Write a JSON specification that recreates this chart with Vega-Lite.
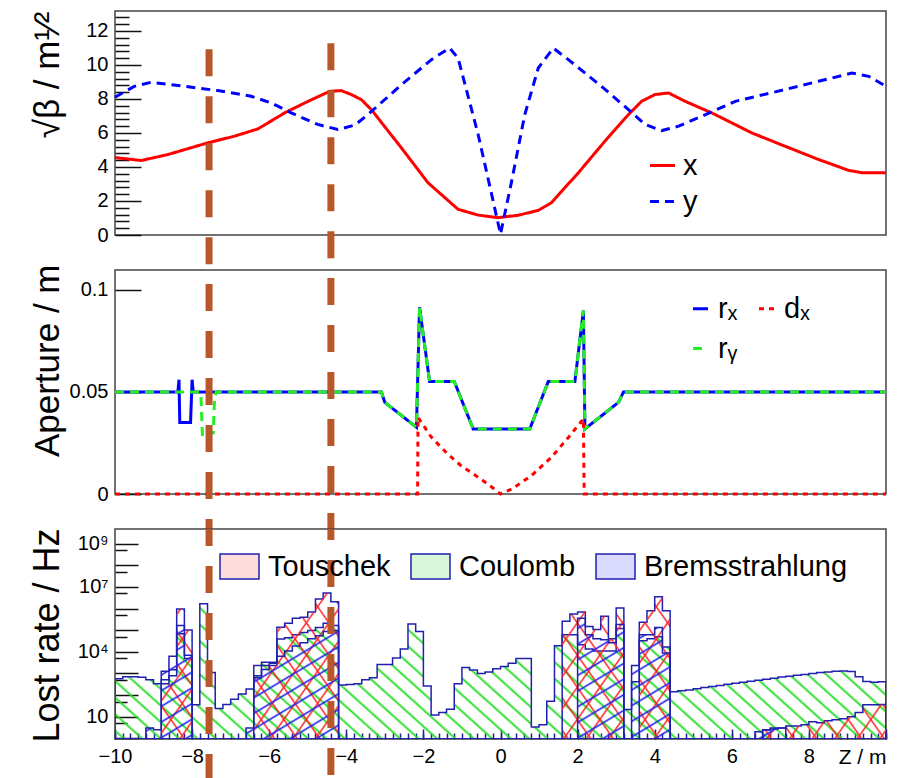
{
  "$schema": "https://vega.github.io/schema/vega-lite/v6.json",
  "background": "white",
  "padding": {"left": 28, "top": 10, "right": 5, "bottom": 5},
  "autosize": {"type": "pad"},
  "config": {
    "font": "Liberation Sans",
    "view": {"stroke": "#444444", "strokeWidth": 1.5},
    "axis": {
      "grid": false, "domain": false, "labelFont": "Liberation Sans", "labelFontSize": 20,
      "labelColor": "#000000", "labelFlush": false, "labelOverlap": false,
      "titleFont": "Liberation Sans", "titleFontWeight": "normal", "titleColor": "#000000",
      "tickColor": "#111111", "tickWidth": 1.5
    },
    "legend": {"labelFont": "Liberation Sans", "labelColor": "#000000", "labelFontSize": 29, "labelLimit": 0, "padding": 0}
  },
  "datasets": {
    "cuts": [{"cut": "a", "z": -7.56}, {"cut": "b", "z": -4.4}],
    "beta": [
      {"z": -10, "plane": "x", "v": 4.55}, {"z": -9.32, "plane": "x", "v": 4.38}, {"z": -8.63, "plane": "x", "v": 4.73},
      {"z": -7.59, "plane": "x", "v": 5.42}, {"z": -6.9, "plane": "x", "v": 5.81}, {"z": -6.29, "plane": "x", "v": 6.24},
      {"z": -5.6, "plane": "x", "v": 7.18}, {"z": -4.99, "plane": "x", "v": 7.86}, {"z": -4.43, "plane": "x", "v": 8.45},
      {"z": -4.13, "plane": "x", "v": 8.49}, {"z": -3.87, "plane": "x", "v": 8.26}, {"z": -3.61, "plane": "x", "v": 7.96},
      {"z": -3.35, "plane": "x", "v": 7.37}, {"z": -2.57, "plane": "x", "v": 5.12}, {"z": -1.88, "plane": "x", "v": 3.07},
      {"z": -1.27, "plane": "x", "v": 1.85}, {"z": -1.1, "plane": "x", "v": 1.51}, {"z": -0.58, "plane": "x", "v": 1.17},
      {"z": -0.06, "plane": "x", "v": 1.02}, {"z": 0.46, "plane": "x", "v": 1.16}, {"z": 0.98, "plane": "x", "v": 1.45},
      {"z": 1.32, "plane": "x", "v": 1.9}, {"z": 2.02, "plane": "x", "v": 3.66}, {"z": 2.71, "plane": "x", "v": 5.52},
      {"z": 3.32, "plane": "x", "v": 7.08}, {"z": 3.66, "plane": "x", "v": 7.86}, {"z": 4.01, "plane": "x", "v": 8.26},
      {"z": 4.36, "plane": "x", "v": 8.35}, {"z": 4.79, "plane": "x", "v": 7.86}, {"z": 5.48, "plane": "x", "v": 7.18},
      {"z": 6.17, "plane": "x", "v": 6.4}, {"z": 6.52, "plane": "x", "v": 6.0}, {"z": 7.38, "plane": "x", "v": 5.22},
      {"z": 8.25, "plane": "x", "v": 4.44}, {"z": 9.03, "plane": "x", "v": 3.8}, {"z": 9.38, "plane": "x", "v": 3.66},
      {"z": 10, "plane": "x", "v": 3.66},
      {"z": -10, "plane": "y", "v": 8.1}, {"z": -9.5, "plane": "y", "v": 8.74}, {"z": -9.06, "plane": "y", "v": 8.98},
      {"z": -8.2, "plane": "y", "v": 8.74}, {"z": -7.33, "plane": "y", "v": 8.49}, {"z": -6.47, "plane": "y", "v": 8.16},
      {"z": -5.95, "plane": "y", "v": 7.77}, {"z": -5.43, "plane": "y", "v": 7.18}, {"z": -4.74, "plane": "y", "v": 6.5},
      {"z": -4.22, "plane": "y", "v": 6.2}, {"z": -3.78, "plane": "y", "v": 6.46}, {"z": -3.44, "plane": "y", "v": 7.08},
      {"z": -2.57, "plane": "y", "v": 8.84}, {"z": -1.79, "plane": "y", "v": 10.31}, {"z": -1.32, "plane": "y", "v": 11.0},
      {"z": -1.1, "plane": "y", "v": 10.4}, {"z": -0.58, "plane": "y", "v": 5.91}, {"z": -0.23, "plane": "y", "v": 2.39},
      {"z": 0.0, "plane": "y", "v": 0.05}, {"z": 0.29, "plane": "y", "v": 3.17}, {"z": 0.63, "plane": "y", "v": 7.08},
      {"z": 0.98, "plane": "y", "v": 9.82}, {"z": 1.37, "plane": "y", "v": 10.99}, {"z": 1.76, "plane": "y", "v": 10.31},
      {"z": 2.62, "plane": "y", "v": 8.74}, {"z": 3.32, "plane": "y", "v": 7.37}, {"z": 3.75, "plane": "y", "v": 6.5},
      {"z": 4.18, "plane": "y", "v": 6.14}, {"z": 4.62, "plane": "y", "v": 6.4}, {"z": 5.22, "plane": "y", "v": 6.98},
      {"z": 6.09, "plane": "y", "v": 7.86}, {"z": 7.38, "plane": "y", "v": 8.55}, {"z": 8.25, "plane": "y", "v": 9.04},
      {"z": 9.12, "plane": "y", "v": 9.52}, {"z": 9.55, "plane": "y", "v": 9.33}, {"z": 10, "plane": "y", "v": 8.74}
    ],
    "aperture": [
      {"z": -10, "curve": "rₓ", "a": 0.05}, {"z": -8.37, "curve": "rₓ", "a": 0.05}, {"z": -8.34, "curve": "rₓ", "a": 0.056},
      {"z": -8.32, "curve": "rₓ", "a": 0.035}, {"z": -8.04, "curve": "rₓ", "a": 0.035}, {"z": -8.0, "curve": "rₓ", "a": 0.056},
      {"z": -7.97, "curve": "rₓ", "a": 0.05}, {"z": -3.09, "curve": "rₓ", "a": 0.05}, {"z": -3.0, "curve": "rₓ", "a": 0.0449},
      {"z": -2.18, "curve": "rₓ", "a": 0.0327}, {"z": -2.1, "curve": "rₓ", "a": 0.0915}, {"z": -1.84, "curve": "rₓ", "a": 0.0552},
      {"z": -1.2, "curve": "rₓ", "a": 0.0552}, {"z": -0.71, "curve": "rₓ", "a": 0.0319}, {"z": 0.76, "curve": "rₓ", "a": 0.0319},
      {"z": 1.24, "curve": "rₓ", "a": 0.0552}, {"z": 1.93, "curve": "rₓ", "a": 0.0552}, {"z": 2.15, "curve": "rₓ", "a": 0.0899},
      {"z": 2.19, "curve": "rₓ", "a": 0.0319}, {"z": 3.06, "curve": "rₓ", "a": 0.0449}, {"z": 3.19, "curve": "rₓ", "a": 0.05},
      {"z": 10, "curve": "rₓ", "a": 0.05},
      {"z": -10, "curve": "rᵧ", "a": 0.05}, {"z": -7.8, "curve": "rᵧ", "a": 0.05}, {"z": -7.77, "curve": "rᵧ", "a": 0.0474},
      {"z": -7.73, "curve": "rᵧ", "a": 0.0277}, {"z": -7.45, "curve": "rᵧ", "a": 0.03}, {"z": -7.42, "curve": "rᵧ", "a": 0.0457},
      {"z": -7.38, "curve": "rᵧ", "a": 0.05}, {"z": -3.09, "curve": "rᵧ", "a": 0.05}, {"z": -3.0, "curve": "rᵧ", "a": 0.0449},
      {"z": -2.18, "curve": "rᵧ", "a": 0.0327}, {"z": -2.1, "curve": "rᵧ", "a": 0.0915}, {"z": -1.84, "curve": "rᵧ", "a": 0.0552},
      {"z": -1.2, "curve": "rᵧ", "a": 0.0552}, {"z": -0.71, "curve": "rᵧ", "a": 0.0319}, {"z": 0.76, "curve": "rᵧ", "a": 0.0319},
      {"z": 1.24, "curve": "rᵧ", "a": 0.0552}, {"z": 1.93, "curve": "rᵧ", "a": 0.0552}, {"z": 2.15, "curve": "rᵧ", "a": 0.0899},
      {"z": 2.19, "curve": "rᵧ", "a": 0.0319}, {"z": 3.06, "curve": "rᵧ", "a": 0.0449}, {"z": 3.19, "curve": "rᵧ", "a": 0.05},
      {"z": 10, "curve": "rᵧ", "a": 0.05},
      {"z": -10, "curve": "dₓ", "a": 0}, {"z": -2.15, "curve": "dₓ", "a": 0}, {"z": -2.14, "curve": "dₓ", "a": 0.0376},
      {"z": -1.8, "curve": "dₓ", "a": 0.028}, {"z": -1.36, "curve": "dₓ", "a": 0.0194}, {"z": -1.0, "curve": "dₓ", "a": 0.0135},
      {"z": -0.6, "curve": "dₓ", "a": 0.0085}, {"z": -0.3, "curve": "dₓ", "a": 0.0045}, {"z": 0, "curve": "dₓ", "a": 0},
      {"z": 0.3, "curve": "dₓ", "a": 0.0025}, {"z": 0.8, "curve": "dₓ", "a": 0.009}, {"z": 1.32, "curve": "dₓ", "a": 0.018},
      {"z": 1.76, "curve": "dₓ", "a": 0.0277}, {"z": 2.15, "curve": "dₓ", "a": 0.0368}, {"z": 2.17, "curve": "dₓ", "a": 0},
      {"z": 10, "curve": "dₓ", "a": 0}
    ],
    "loss": [
      {"z": -10, "coulomb": 570, "touschek": 0.01, "brems": 0.01},
      {"z": -9.8, "coulomb": 710, "touschek": 0.01, "brems": 0.01},
      {"z": -9.6, "coulomb": 710, "touschek": 0.01, "brems": 0.01},
      {"z": -9.4, "coulomb": 660, "touschek": 0.01, "brems": 0.01},
      {"z": -9.2, "coulomb": 510, "touschek": 0.01, "brems": 3},
      {"z": -9.0, "coulomb": 330, "touschek": 0.01, "brems": 2.5},
      {"z": -8.8, "coulomb": 510, "touschek": 330, "brems": 1250},
      {"z": -8.6, "coulomb": 1500, "touschek": 790, "brems": 6200},
      {"z": -8.4, "coulomb": 68000, "touschek": 960000, "brems": 164000},
      {"z": -8.2, "coulomb": 4900, "touschek": 103000, "brems": 6900},
      {"z": -8.0, "coulomb": 36, "touschek": 0.01, "brems": 0.01},
      {"z": -7.8, "coulomb": 1660000, "touschek": 0.01, "brems": 0.01},
      {"z": -7.6, "coulomb": 1100, "touschek": 0.01, "brems": 0.01},
      {"z": -7.4, "coulomb": 24, "touschek": 0.01, "brems": 0.01},
      {"z": -7.2, "coulomb": 37, "touschek": 0.01, "brems": 0.01},
      {"z": -7.0, "coulomb": 64, "touschek": 0.01, "brems": 0.01},
      {"z": -6.8, "coulomb": 111, "touschek": 0.01, "brems": 0.01},
      {"z": -6.6, "coulomb": 190, "touschek": 0.01, "brems": 3},
      {"z": -6.4, "coulomb": 790, "touschek": 2360, "brems": 635},
      {"z": -6.2, "coulomb": 3270, "touschek": 2360, "brems": 1520},
      {"z": -6.0, "coulomb": 3270, "touschek": 2360, "brems": 2930},
      {"z": -5.8, "coulomb": 39500, "touschek": 137000, "brems": 6300},
      {"z": -5.6, "coulomb": 45000, "touschek": 208000, "brems": 10900},
      {"z": -5.4, "coulomb": 62500, "touschek": 359000, "brems": 18800},
      {"z": -5.2, "coulomb": 78000, "touschek": 401000, "brems": 26100},
      {"z": -5.0, "coulomb": 97000, "touschek": 692000, "brems": 40400},
      {"z": -4.8, "coulomb": 134000, "touschek": 2800000, "brems": 56100},
      {"z": -4.6, "coulomb": 208000, "touschek": 5270000, "brems": 86700},
      {"z": -4.4, "coulomb": 164000, "touschek": 2060000, "brems": 96800},
      {"z": -4.2, "coulomb": 289, "touschek": 0.01, "brems": 0.01},
      {"z": -4.0, "coulomb": 309, "touschek": 0.01, "brems": 0.01},
      {"z": -3.8, "coulomb": 330, "touschek": 0.01, "brems": 0.01},
      {"z": -3.6, "coulomb": 510, "touschek": 0.01, "brems": 0.01},
      {"z": -3.4, "coulomb": 635, "touschek": 0.01, "brems": 0.01},
      {"z": -3.2, "coulomb": 2570, "touschek": 0.01, "brems": 0.01},
      {"z": -3.0, "coulomb": 2570, "touschek": 0.01, "brems": 0.01},
      {"z": -2.8, "coulomb": 5180, "touschek": 0.01, "brems": 0.01},
      {"z": -2.6, "coulomb": 13600, "touschek": 0.01, "brems": 0.01},
      {"z": -2.4, "coulomb": 195000, "touschek": 0.01, "brems": 0.01},
      {"z": -2.2, "coulomb": 86700, "touschek": 0.01, "brems": 0.01},
      {"z": -2.0, "coulomb": 265, "touschek": 0.01, "brems": 0.01},
      {"z": -1.8, "coulomb": 11.9, "touschek": 0.01, "brems": 0.01},
      {"z": -1.6, "coulomb": 15.5, "touschek": 0.01, "brems": 0.01},
      {"z": -1.4, "coulomb": 22.4, "touschek": 0.01, "brems": 0.01},
      {"z": -1.2, "coulomb": 330, "touschek": 0.01, "brems": 0.01},
      {"z": -1.0, "coulomb": 1900, "touschek": 0.01, "brems": 0.01},
      {"z": -0.8, "coulomb": 1460, "touschek": 0.01, "brems": 0.01},
      {"z": -0.6, "coulomb": 984, "touschek": 0.01, "brems": 0.01},
      {"z": -0.4, "coulomb": 1170, "touschek": 0.01, "brems": 0.01},
      {"z": -0.2, "coulomb": 1630, "touschek": 0.01, "brems": 0.01},
      {"z": 0.0, "coulomb": 2110, "touschek": 0.01, "brems": 0.01},
      {"z": 0.2, "coulomb": 2930, "touschek": 0.01, "brems": 0.01},
      {"z": 0.4, "coulomb": 4950, "touschek": 0.01, "brems": 0.01},
      {"z": 0.6, "coulomb": 4950, "touschek": 0.01, "brems": 0.01},
      {"z": 0.8, "coulomb": 3.35, "touschek": 0.01, "brems": 0.01},
      {"z": 1.0, "coulomb": 4.2, "touschek": 0.01, "brems": 0.01},
      {"z": 1.2, "coulomb": 51.5, "touschek": 0.01, "brems": 0.01},
      {"z": 1.4, "coulomb": 19200, "touschek": 0.01, "brems": 0.01},
      {"z": 1.6, "coulomb": 62500, "touschek": 259000, "brems": 0.01},
      {"z": 1.8, "coulomb": 62500, "touschek": 556000, "brems": 0.01},
      {"z": 2.0, "coulomb": 21000, "touschek": 692000, "brems": 359000},
      {"z": 2.2, "coulomb": 13600, "touschek": 150000, "brems": 62500},
      {"z": 2.4, "coulomb": 10900, "touschek": 108000, "brems": 40400},
      {"z": 2.6, "coulomb": 10900, "touschek": 447000, "brems": 36200},
      {"z": 2.8, "coulomb": 10900, "touschek": 40400, "brems": 26100},
      {"z": 3.0, "coulomb": 120000, "touschek": 1070000, "brems": 186000},
      {"z": 3.2, "coulomb": 21.5, "touschek": 0.01, "brems": 0.01},
      {"z": 3.4, "coulomb": 410, "touschek": 0.01, "brems": 2360},
      {"z": 3.6, "coulomb": 32400, "touschek": 232000, "brems": 62500},
      {"z": 3.8, "coulomb": 40400, "touschek": 805000, "brems": 62500},
      {"z": 4.0, "coulomb": 50200, "touschek": 3560000, "brems": 134000},
      {"z": 4.2, "coulomb": 16900, "touschek": 805000, "brems": 8750},
      {"z": 4.4, "coulomb": 144, "touschek": 0.01, "brems": 0.01},
      {"z": 4.6, "coulomb": 157, "touschek": 0.01, "brems": 0.01},
      {"z": 4.8, "coulomb": 171, "touschek": 0.01, "brems": 0.01},
      {"z": 5.0, "coulomb": 195, "touschek": 0.01, "brems": 0.01},
      {"z": 5.2, "coulomb": 223, "touschek": 0.01, "brems": 0.01},
      {"z": 5.4, "coulomb": 248, "touschek": 0.01, "brems": 0.01},
      {"z": 5.6, "coulomb": 277, "touschek": 0.01, "brems": 0.01},
      {"z": 5.8, "coulomb": 316, "touschek": 0.01, "brems": 0.01},
      {"z": 6.0, "coulomb": 352, "touschek": 0.01, "brems": 0.01},
      {"z": 6.2, "coulomb": 393, "touschek": 0.01, "brems": 0.01},
      {"z": 6.4, "coulomb": 438, "touschek": 0.01, "brems": 0.01},
      {"z": 6.6, "coulomb": 489, "touschek": 0.01, "brems": 2},
      {"z": 6.8, "coulomb": 546, "touschek": 2.4, "brems": 2.5},
      {"z": 7.0, "coulomb": 608, "touschek": 2.7, "brems": 3},
      {"z": 7.2, "coulomb": 679, "touschek": 3.0, "brems": 3},
      {"z": 7.4, "coulomb": 741, "touschek": 3.7, "brems": 0.01},
      {"z": 7.6, "coulomb": 826, "touschek": 3.7, "brems": 0.01},
      {"z": 7.8, "coulomb": 902, "touschek": 4.2, "brems": 0.01},
      {"z": 8.0, "coulomb": 984, "touschek": 5.8, "brems": 0.01},
      {"z": 8.2, "coulomb": 1100, "touschek": 5.2, "brems": 0.01},
      {"z": 8.4, "coulomb": 1170, "touschek": 6.5, "brems": 0.01},
      {"z": 8.6, "coulomb": 1280, "touschek": 7.2, "brems": 0.01},
      {"z": 8.8, "coulomb": 1310, "touschek": 8.0, "brems": 0.01},
      {"z": 9.0, "coulomb": 1220, "touschek": 10, "brems": 0.01},
      {"z": 9.2, "coulomb": 710, "touschek": 15.5, "brems": 0.01},
      {"z": 9.4, "coulomb": 429, "touschek": 36, "brems": 0.01},
      {"z": 9.6, "coulomb": 393, "touschek": 36, "brems": 0.01},
      {"z": 9.8, "coulomb": 410, "touschek": 37, "brems": 0.01},
      {"z": 10, "coulomb": 410, "touschek": 37, "brems": 0.01}
    ]
  },
  "spacing": 35,
  "bounds": "flush",
  "resolve": {"scale": {"color": "independent", "strokeDash": "independent", "fill": "independent"}},
  "vconcat": [
    {
      "width": 771,
      "height": 224,
      "resolve": {"axis": {"y": "independent"}},
      "layer": [
        {
          "data": {"name": "beta"},
          "mark": {"type": "line", "strokeWidth": 3},
          "encoding": {
            "x": {"field": "z", "type": "quantitative", "scale": {"domain": [-10, 10], "nice": false}, "axis": null},
            "y": {
              "field": "v", "type": "quantitative", "scale": {"domain": [0, 13.17], "nice": false},
              "axis": {
                "orient": "left", "values": [0, 2, 4, 6, 8, 10, 12], "ticks": false, "labelPadding": 7,
                "title": "√β / m¹⁄²", "titleFontSize": 35, "titleAnchor": "end", "titleAlign": "right",
                "titleBaseline": "middle", "titleX": -68, "titleY": 0
              }
            },
            "color": {
              "field": "plane", "type": "nominal",
              "scale": {"domain": ["x", "y"], "range": ["#ff0000", "#0000ff"]},
              "legend": {"orient": "none", "legendX": 533, "legendY": 140, "title": null, "symbolType": "stroke", "symbolSize": 625, "symbolStrokeWidth": 3, "labelOffset": 6, "rowPadding": 6}
            },
            "strokeDash": {
              "field": "plane", "type": "nominal",
              "scale": {"domain": ["x", "y"], "range": [[1, 0], [9, 6]]},
              "legend": {"orient": "none", "legendX": 533, "legendY": 140, "title": null, "symbolType": "stroke", "symbolSize": 625, "symbolStrokeWidth": 3, "labelOffset": 6, "rowPadding": 6}
            }
          }
        },
        {
          "data": {"name": "beta"},
          "mark": {"type": "point", "opacity": 0},
          "encoding": {
            "x": {"field": "z", "type": "quantitative", "axis": null},
            "y": {"field": "v", "type": "quantitative", "axis": {"orient": "left", "values": [0, 2, 4, 6, 8, 10, 12], "labels": false, "tickSize": -26, "title": null}}
          }
        },
        {
          "data": {"name": "beta"},
          "mark": {"type": "point", "opacity": 0},
          "encoding": {
            "x": {"field": "z", "type": "quantitative", "axis": null},
            "y": {"field": "v", "type": "quantitative", "axis": {"orient": "left", "values": [0.4, 0.8, 1.2, 1.6, 2.4, 2.8, 3.2, 3.6, 4.4, 4.8, 5.2, 5.6, 6.4, 6.8, 7.2, 7.6, 8.4, 8.8, 9.2, 9.6, 10.4, 10.8, 11.2, 11.6, 12.4, 12.8], "labels": false, "tickSize": -14, "title": null}}
          }
        },
        {
          "data": {"name": "cuts"},
          "transform": [{"filter": "datum.cut === 'a'"}],
          "mark": {"type": "rule", "color": "#b8582a", "strokeWidth": 7, "strokeDash": [27, 20], "strokeDashOffset": 0},
          "encoding": {
            "x": {"field": "z", "type": "quantitative", "axis": null},
            "y": {"datum": 10.92, "type": "quantitative", "axis": null},
            "y2": {"datum": -2.054}
          }
        },
        {
          "data": {"name": "cuts"},
          "transform": [{"filter": "datum.cut === 'b'"}],
          "mark": {"type": "rule", "color": "#b8582a", "strokeWidth": 7, "strokeDash": [27, 20], "strokeDashOffset": 0},
          "encoding": {
            "x": {"field": "z", "type": "quantitative", "axis": null},
            "y": {"datum": 11.27, "type": "quantitative", "axis": null},
            "y2": {"datum": -2.054}
          }
        }
      ]
    },
    {
      "width": 771,
      "height": 224,
      "resolve": {"axis": {"y": "independent"}},
      "layer": [
        {
          "data": {"name": "aperture"},
          "transform": [{"filter": "datum.curve === 'rₓ'"}],
          "mark": {"type": "line", "strokeWidth": 3},
          "encoding": {
            "x": {"field": "z", "type": "quantitative", "scale": {"domain": [-10, 10], "nice": false}, "axis": null},
            "y": {
              "field": "a", "type": "quantitative", "scale": {"domain": [0, 0.1098], "nice": false},
              "axis": {
                "orient": "left", "values": [0, 0.05, 0.1], "format": "~g", "ticks": false, "labelPadding": 7,
                "title": "Aperture / m", "titleFontSize": 35, "titleAnchor": "end", "titleAlign": "right",
                "titleBaseline": "middle", "titleX": -68, "titleY": -6
              }
            },
            "color": {
              "field": "curve", "type": "nominal",
              "scale": {"domain": ["rₓ", "rᵧ", "dₓ"], "range": ["#0000ff", "#22ee22", "#ff0000"]},
              "legend": {"orient": "none", "legendX": 571, "legendY": 24, "title": null, "columns": 2, "columnPadding": 14, "rowPadding": 10, "symbolType": "stroke", "symbolSize": 225, "symbolStrokeWidth": 3, "labelOffset": 3}
            },
            "strokeDash": {
              "field": "curve", "type": "nominal",
              "scale": {"domain": ["rₓ", "rᵧ", "dₓ"], "range": [[1, 0], [9, 6], [5, 5]]},
              "legend": {"orient": "none", "legendX": 571, "legendY": 24, "title": null, "columns": 2, "columnPadding": 14, "rowPadding": 10, "symbolType": "stroke", "symbolSize": 225, "symbolStrokeWidth": 3, "labelOffset": 3}
            }
          }
        },
        {
          "data": {"name": "aperture"},
          "transform": [{"filter": "datum.curve === 'rᵧ'"}],
          "mark": {"type": "line", "strokeWidth": 3},
          "encoding": {
            "x": {"field": "z", "type": "quantitative", "axis": null},
            "y": {"field": "a", "type": "quantitative", "axis": null},
            "color": {"field": "curve", "type": "nominal", "legend": {"orient": "none", "legendX": 571, "legendY": 24, "title": null, "columns": 2, "columnPadding": 14, "rowPadding": 10, "symbolType": "stroke", "symbolSize": 225, "symbolStrokeWidth": 3, "labelOffset": 3}},
            "strokeDash": {"field": "curve", "type": "nominal", "legend": {"orient": "none", "legendX": 571, "legendY": 24, "title": null, "columns": 2, "columnPadding": 14, "rowPadding": 10, "symbolType": "stroke", "symbolSize": 225, "symbolStrokeWidth": 3, "labelOffset": 3}}
          }
        },
        {
          "data": {"name": "aperture"},
          "transform": [{"filter": "datum.curve === 'dₓ'"}],
          "mark": {"type": "line", "strokeWidth": 3},
          "encoding": {
            "x": {"field": "z", "type": "quantitative", "axis": null},
            "y": {"field": "a", "type": "quantitative", "axis": null},
            "color": {"field": "curve", "type": "nominal", "legend": {"orient": "none", "legendX": 571, "legendY": 24, "title": null, "columns": 2, "columnPadding": 14, "rowPadding": 10, "symbolType": "stroke", "symbolSize": 225, "symbolStrokeWidth": 3, "labelOffset": 3}},
            "strokeDash": {"field": "curve", "type": "nominal", "legend": {"orient": "none", "legendX": 571, "legendY": 24, "title": null, "columns": 2, "columnPadding": 14, "rowPadding": 10, "symbolType": "stroke", "symbolSize": 225, "symbolStrokeWidth": 3, "labelOffset": 3}}
          }
        },
        {
          "data": {"name": "aperture"},
          "mark": {"type": "point", "opacity": 0},
          "encoding": {
            "x": {"field": "z", "type": "quantitative", "axis": null},
            "y": {"field": "a", "type": "quantitative", "axis": {"orient": "left", "values": [0, 0.05, 0.1], "labels": false, "tickSize": -26, "title": null}}
          }
        },
        {
          "data": {"name": "cuts"},
          "transform": [{"filter": "datum.cut === 'a'"}],
          "mark": {"type": "rule", "color": "#b8582a", "strokeWidth": 7, "strokeDash": [27, 20], "strokeDashOffset": 33},
          "encoding": {
            "x": {"field": "z", "type": "quantitative", "axis": null},
            "y": {"datum": 0.1098, "type": "quantitative", "axis": null},
            "y2": {"datum": -0.01716}
          }
        },
        {
          "data": {"name": "cuts"},
          "transform": [{"filter": "datum.cut === 'b'"}],
          "mark": {"type": "rule", "color": "#b8582a", "strokeWidth": 7, "strokeDash": [27, 20], "strokeDashOffset": 39},
          "encoding": {
            "x": {"field": "z", "type": "quantitative", "axis": null},
            "y": {"datum": 0.1098, "type": "quantitative", "axis": null},
            "y2": {"datum": -0.01716}
          }
        }
      ]
    },
    {
      "width": 771,
      "height": 210,
      "resolve": {"axis": {"x": "independent", "y": "independent"}},
      "layer": [
        {
          "data": {"name": "loss"},
          "mark": {
            "type": "area", "interpolate": "step-after", "clip": true, "stroke": "#2020b0", "strokeWidth": 1.5,
            "fill": {"gradient": "linear", "x1": 0, "y1": 1, "x2": 1.151, "y2": 0.776, "stops": [
              {"offset": 0.007, "color": "rgba(34,221,34,0)"}, {"offset": 0.01, "color": "#22dd22"}, {"offset": 0.013, "color": "rgba(34,221,34,0)"},
              {"offset": 0.027, "color": "rgba(34,221,34,0)"}, {"offset": 0.03, "color": "#22dd22"}, {"offset": 0.033, "color": "rgba(34,221,34,0)"},
              {"offset": 0.047, "color": "rgba(34,221,34,0)"}, {"offset": 0.05, "color": "#22dd22"}, {"offset": 0.053, "color": "rgba(34,221,34,0)"},
              {"offset": 0.067, "color": "rgba(34,221,34,0)"}, {"offset": 0.07, "color": "#22dd22"}, {"offset": 0.073, "color": "rgba(34,221,34,0)"},
              {"offset": 0.087, "color": "rgba(34,221,34,0)"}, {"offset": 0.09, "color": "#22dd22"}, {"offset": 0.093, "color": "rgba(34,221,34,0)"},
              {"offset": 0.107, "color": "rgba(34,221,34,0)"}, {"offset": 0.11, "color": "#22dd22"}, {"offset": 0.113, "color": "rgba(34,221,34,0)"},
              {"offset": 0.127, "color": "rgba(34,221,34,0)"}, {"offset": 0.13, "color": "#22dd22"}, {"offset": 0.133, "color": "rgba(34,221,34,0)"},
              {"offset": 0.147, "color": "rgba(34,221,34,0)"}, {"offset": 0.15, "color": "#22dd22"}, {"offset": 0.153, "color": "rgba(34,221,34,0)"},
              {"offset": 0.167, "color": "rgba(34,221,34,0)"}, {"offset": 0.17, "color": "#22dd22"}, {"offset": 0.173, "color": "rgba(34,221,34,0)"},
              {"offset": 0.187, "color": "rgba(34,221,34,0)"}, {"offset": 0.19, "color": "#22dd22"}, {"offset": 0.193, "color": "rgba(34,221,34,0)"},
              {"offset": 0.207, "color": "rgba(34,221,34,0)"}, {"offset": 0.21, "color": "#22dd22"}, {"offset": 0.213, "color": "rgba(34,221,34,0)"},
              {"offset": 0.227, "color": "rgba(34,221,34,0)"}, {"offset": 0.23, "color": "#22dd22"}, {"offset": 0.233, "color": "rgba(34,221,34,0)"},
              {"offset": 0.247, "color": "rgba(34,221,34,0)"}, {"offset": 0.25, "color": "#22dd22"}, {"offset": 0.253, "color": "rgba(34,221,34,0)"},
              {"offset": 0.267, "color": "rgba(34,221,34,0)"}, {"offset": 0.27, "color": "#22dd22"}, {"offset": 0.273, "color": "rgba(34,221,34,0)"},
              {"offset": 0.287, "color": "rgba(34,221,34,0)"}, {"offset": 0.29, "color": "#22dd22"}, {"offset": 0.293, "color": "rgba(34,221,34,0)"},
              {"offset": 0.307, "color": "rgba(34,221,34,0)"}, {"offset": 0.31, "color": "#22dd22"}, {"offset": 0.313, "color": "rgba(34,221,34,0)"},
              {"offset": 0.327, "color": "rgba(34,221,34,0)"}, {"offset": 0.33, "color": "#22dd22"}, {"offset": 0.333, "color": "rgba(34,221,34,0)"},
              {"offset": 0.347, "color": "rgba(34,221,34,0)"}, {"offset": 0.35, "color": "#22dd22"}, {"offset": 0.353, "color": "rgba(34,221,34,0)"},
              {"offset": 0.367, "color": "rgba(34,221,34,0)"}, {"offset": 0.37, "color": "#22dd22"}, {"offset": 0.373, "color": "rgba(34,221,34,0)"},
              {"offset": 0.387, "color": "rgba(34,221,34,0)"}, {"offset": 0.39, "color": "#22dd22"}, {"offset": 0.393, "color": "rgba(34,221,34,0)"},
              {"offset": 0.407, "color": "rgba(34,221,34,0)"}, {"offset": 0.41, "color": "#22dd22"}, {"offset": 0.413, "color": "rgba(34,221,34,0)"},
              {"offset": 0.427, "color": "rgba(34,221,34,0)"}, {"offset": 0.43, "color": "#22dd22"}, {"offset": 0.433, "color": "rgba(34,221,34,0)"},
              {"offset": 0.447, "color": "rgba(34,221,34,0)"}, {"offset": 0.45, "color": "#22dd22"}, {"offset": 0.453, "color": "rgba(34,221,34,0)"},
              {"offset": 0.467, "color": "rgba(34,221,34,0)"}, {"offset": 0.47, "color": "#22dd22"}, {"offset": 0.473, "color": "rgba(34,221,34,0)"},
              {"offset": 0.487, "color": "rgba(34,221,34,0)"}, {"offset": 0.49, "color": "#22dd22"}, {"offset": 0.493, "color": "rgba(34,221,34,0)"},
              {"offset": 0.507, "color": "rgba(34,221,34,0)"}, {"offset": 0.51, "color": "#22dd22"}, {"offset": 0.513, "color": "rgba(34,221,34,0)"},
              {"offset": 0.527, "color": "rgba(34,221,34,0)"}, {"offset": 0.53, "color": "#22dd22"}, {"offset": 0.533, "color": "rgba(34,221,34,0)"},
              {"offset": 0.547, "color": "rgba(34,221,34,0)"}, {"offset": 0.55, "color": "#22dd22"}, {"offset": 0.553, "color": "rgba(34,221,34,0)"},
              {"offset": 0.567, "color": "rgba(34,221,34,0)"}, {"offset": 0.57, "color": "#22dd22"}, {"offset": 0.573, "color": "rgba(34,221,34,0)"},
              {"offset": 0.587, "color": "rgba(34,221,34,0)"}, {"offset": 0.59, "color": "#22dd22"}, {"offset": 0.593, "color": "rgba(34,221,34,0)"},
              {"offset": 0.607, "color": "rgba(34,221,34,0)"}, {"offset": 0.61, "color": "#22dd22"}, {"offset": 0.613, "color": "rgba(34,221,34,0)"},
              {"offset": 0.627, "color": "rgba(34,221,34,0)"}, {"offset": 0.63, "color": "#22dd22"}, {"offset": 0.633, "color": "rgba(34,221,34,0)"},
              {"offset": 0.647, "color": "rgba(34,221,34,0)"}, {"offset": 0.65, "color": "#22dd22"}, {"offset": 0.653, "color": "rgba(34,221,34,0)"},
              {"offset": 0.667, "color": "rgba(34,221,34,0)"}, {"offset": 0.67, "color": "#22dd22"}, {"offset": 0.673, "color": "rgba(34,221,34,0)"},
              {"offset": 0.687, "color": "rgba(34,221,34,0)"}, {"offset": 0.69, "color": "#22dd22"}, {"offset": 0.693, "color": "rgba(34,221,34,0)"},
              {"offset": 0.707, "color": "rgba(34,221,34,0)"}, {"offset": 0.71, "color": "#22dd22"}, {"offset": 0.713, "color": "rgba(34,221,34,0)"},
              {"offset": 0.727, "color": "rgba(34,221,34,0)"}, {"offset": 0.73, "color": "#22dd22"}, {"offset": 0.733, "color": "rgba(34,221,34,0)"},
              {"offset": 0.747, "color": "rgba(34,221,34,0)"}, {"offset": 0.75, "color": "#22dd22"}, {"offset": 0.753, "color": "rgba(34,221,34,0)"},
              {"offset": 0.767, "color": "rgba(34,221,34,0)"}, {"offset": 0.77, "color": "#22dd22"}, {"offset": 0.773, "color": "rgba(34,221,34,0)"},
              {"offset": 0.787, "color": "rgba(34,221,34,0)"}, {"offset": 0.79, "color": "#22dd22"}, {"offset": 0.793, "color": "rgba(34,221,34,0)"},
              {"offset": 0.807, "color": "rgba(34,221,34,0)"}, {"offset": 0.81, "color": "#22dd22"}, {"offset": 0.813, "color": "rgba(34,221,34,0)"},
              {"offset": 0.827, "color": "rgba(34,221,34,0)"}, {"offset": 0.83, "color": "#22dd22"}, {"offset": 0.833, "color": "rgba(34,221,34,0)"},
              {"offset": 0.847, "color": "rgba(34,221,34,0)"}, {"offset": 0.85, "color": "#22dd22"}, {"offset": 0.853, "color": "rgba(34,221,34,0)"},
              {"offset": 0.867, "color": "rgba(34,221,34,0)"}, {"offset": 0.87, "color": "#22dd22"}, {"offset": 0.873, "color": "rgba(34,221,34,0)"},
              {"offset": 0.887, "color": "rgba(34,221,34,0)"}, {"offset": 0.89, "color": "#22dd22"}, {"offset": 0.893, "color": "rgba(34,221,34,0)"},
              {"offset": 0.907, "color": "rgba(34,221,34,0)"}, {"offset": 0.91, "color": "#22dd22"}, {"offset": 0.913, "color": "rgba(34,221,34,0)"},
              {"offset": 0.927, "color": "rgba(34,221,34,0)"}, {"offset": 0.93, "color": "#22dd22"}, {"offset": 0.933, "color": "rgba(34,221,34,0)"},
              {"offset": 0.947, "color": "rgba(34,221,34,0)"}, {"offset": 0.95, "color": "#22dd22"}, {"offset": 0.953, "color": "rgba(34,221,34,0)"},
              {"offset": 0.967, "color": "rgba(34,221,34,0)"}, {"offset": 0.97, "color": "#22dd22"}, {"offset": 0.973, "color": "rgba(34,221,34,0)"},
              {"offset": 0.987, "color": "rgba(34,221,34,0)"}, {"offset": 0.99, "color": "#22dd22"}, {"offset": 0.993, "color": "rgba(34,221,34,0)"}
            ]}
          },
          "encoding": {
            "x": {
              "field": "z", "type": "quantitative", "scale": {"domain": [-10, 10], "nice": false},
              "axis": {
                "orient": "bottom", "values": [-10, -8, -6, -4, -2, 0, 2, 4, 6, 8], "ticks": false, "labelPadding": 7,
                "title": "Z / m", "titleFontSize": 21, "titleAnchor": "end", "titleAlign": "right", "titleBaseline": "middle",
                "titleX": 771, "titleY": 18
              }
            },
            "y": {
              "field": "coulomb", "type": "quantitative", "stack": null,
              "scale": {"type": "log", "domain": [0.93, 4800000000], "nice": false},
              "axis": {
                "orient": "left", "values": [10, 10000, 10000000, 1000000000], "ticks": false, "labelPadding": 7,
                "labelExpr": "datum.value < 100 ? '10' : datum.value < 100000 ? '10⁴' : datum.value < 100000000 ? '10⁷' : '10⁹'",
                "title": "Lost rate / Hz", "titleFontSize": 36, "titleAnchor": "end", "titleAlign": "right",
                "titleBaseline": "middle", "titleX": -68, "titleY": -1
              }
            }
          }
        },
        {
          "data": {"name": "loss"},
          "mark": {
            "type": "area", "interpolate": "step-after", "clip": true, "stroke": "#2020b0", "strokeWidth": 1.5,
            "fill": {"gradient": "linear", "x1": 0, "y1": 1, "x2": 1.138, "y2": 0.805, "stops": [
              {"offset": 0.008, "color": "rgba(255,34,34,0)"}, {"offset": 0.01, "color": "#ff2222"}, {"offset": 0.012, "color": "rgba(255,34,34,0)"},
              {"offset": 0.033, "color": "rgba(255,34,34,0)"}, {"offset": 0.035, "color": "#ff2222"}, {"offset": 0.037, "color": "rgba(255,34,34,0)"},
              {"offset": 0.058, "color": "rgba(255,34,34,0)"}, {"offset": 0.06, "color": "#ff2222"}, {"offset": 0.062, "color": "rgba(255,34,34,0)"},
              {"offset": 0.083, "color": "rgba(255,34,34,0)"}, {"offset": 0.085, "color": "#ff2222"}, {"offset": 0.087, "color": "rgba(255,34,34,0)"},
              {"offset": 0.108, "color": "rgba(255,34,34,0)"}, {"offset": 0.11, "color": "#ff2222"}, {"offset": 0.112, "color": "rgba(255,34,34,0)"},
              {"offset": 0.133, "color": "rgba(255,34,34,0)"}, {"offset": 0.135, "color": "#ff2222"}, {"offset": 0.137, "color": "rgba(255,34,34,0)"},
              {"offset": 0.158, "color": "rgba(255,34,34,0)"}, {"offset": 0.16, "color": "#ff2222"}, {"offset": 0.162, "color": "rgba(255,34,34,0)"},
              {"offset": 0.183, "color": "rgba(255,34,34,0)"}, {"offset": 0.185, "color": "#ff2222"}, {"offset": 0.187, "color": "rgba(255,34,34,0)"},
              {"offset": 0.208, "color": "rgba(255,34,34,0)"}, {"offset": 0.21, "color": "#ff2222"}, {"offset": 0.212, "color": "rgba(255,34,34,0)"},
              {"offset": 0.233, "color": "rgba(255,34,34,0)"}, {"offset": 0.235, "color": "#ff2222"}, {"offset": 0.237, "color": "rgba(255,34,34,0)"},
              {"offset": 0.258, "color": "rgba(255,34,34,0)"}, {"offset": 0.26, "color": "#ff2222"}, {"offset": 0.262, "color": "rgba(255,34,34,0)"},
              {"offset": 0.283, "color": "rgba(255,34,34,0)"}, {"offset": 0.285, "color": "#ff2222"}, {"offset": 0.287, "color": "rgba(255,34,34,0)"},
              {"offset": 0.308, "color": "rgba(255,34,34,0)"}, {"offset": 0.31, "color": "#ff2222"}, {"offset": 0.312, "color": "rgba(255,34,34,0)"},
              {"offset": 0.333, "color": "rgba(255,34,34,0)"}, {"offset": 0.335, "color": "#ff2222"}, {"offset": 0.337, "color": "rgba(255,34,34,0)"},
              {"offset": 0.358, "color": "rgba(255,34,34,0)"}, {"offset": 0.36, "color": "#ff2222"}, {"offset": 0.362, "color": "rgba(255,34,34,0)"},
              {"offset": 0.383, "color": "rgba(255,34,34,0)"}, {"offset": 0.385, "color": "#ff2222"}, {"offset": 0.387, "color": "rgba(255,34,34,0)"},
              {"offset": 0.408, "color": "rgba(255,34,34,0)"}, {"offset": 0.41, "color": "#ff2222"}, {"offset": 0.412, "color": "rgba(255,34,34,0)"},
              {"offset": 0.433, "color": "rgba(255,34,34,0)"}, {"offset": 0.435, "color": "#ff2222"}, {"offset": 0.437, "color": "rgba(255,34,34,0)"},
              {"offset": 0.458, "color": "rgba(255,34,34,0)"}, {"offset": 0.46, "color": "#ff2222"}, {"offset": 0.462, "color": "rgba(255,34,34,0)"},
              {"offset": 0.483, "color": "rgba(255,34,34,0)"}, {"offset": 0.485, "color": "#ff2222"}, {"offset": 0.487, "color": "rgba(255,34,34,0)"},
              {"offset": 0.508, "color": "rgba(255,34,34,0)"}, {"offset": 0.51, "color": "#ff2222"}, {"offset": 0.512, "color": "rgba(255,34,34,0)"},
              {"offset": 0.533, "color": "rgba(255,34,34,0)"}, {"offset": 0.535, "color": "#ff2222"}, {"offset": 0.537, "color": "rgba(255,34,34,0)"},
              {"offset": 0.558, "color": "rgba(255,34,34,0)"}, {"offset": 0.56, "color": "#ff2222"}, {"offset": 0.562, "color": "rgba(255,34,34,0)"},
              {"offset": 0.583, "color": "rgba(255,34,34,0)"}, {"offset": 0.585, "color": "#ff2222"}, {"offset": 0.587, "color": "rgba(255,34,34,0)"},
              {"offset": 0.608, "color": "rgba(255,34,34,0)"}, {"offset": 0.61, "color": "#ff2222"}, {"offset": 0.612, "color": "rgba(255,34,34,0)"},
              {"offset": 0.633, "color": "rgba(255,34,34,0)"}, {"offset": 0.635, "color": "#ff2222"}, {"offset": 0.637, "color": "rgba(255,34,34,0)"},
              {"offset": 0.658, "color": "rgba(255,34,34,0)"}, {"offset": 0.66, "color": "#ff2222"}, {"offset": 0.662, "color": "rgba(255,34,34,0)"},
              {"offset": 0.683, "color": "rgba(255,34,34,0)"}, {"offset": 0.685, "color": "#ff2222"}, {"offset": 0.687, "color": "rgba(255,34,34,0)"},
              {"offset": 0.708, "color": "rgba(255,34,34,0)"}, {"offset": 0.71, "color": "#ff2222"}, {"offset": 0.712, "color": "rgba(255,34,34,0)"},
              {"offset": 0.733, "color": "rgba(255,34,34,0)"}, {"offset": 0.735, "color": "#ff2222"}, {"offset": 0.737, "color": "rgba(255,34,34,0)"},
              {"offset": 0.758, "color": "rgba(255,34,34,0)"}, {"offset": 0.76, "color": "#ff2222"}, {"offset": 0.762, "color": "rgba(255,34,34,0)"},
              {"offset": 0.783, "color": "rgba(255,34,34,0)"}, {"offset": 0.785, "color": "#ff2222"}, {"offset": 0.787, "color": "rgba(255,34,34,0)"},
              {"offset": 0.808, "color": "rgba(255,34,34,0)"}, {"offset": 0.81, "color": "#ff2222"}, {"offset": 0.812, "color": "rgba(255,34,34,0)"},
              {"offset": 0.833, "color": "rgba(255,34,34,0)"}, {"offset": 0.835, "color": "#ff2222"}, {"offset": 0.837, "color": "rgba(255,34,34,0)"},
              {"offset": 0.858, "color": "rgba(255,34,34,0)"}, {"offset": 0.86, "color": "#ff2222"}, {"offset": 0.862, "color": "rgba(255,34,34,0)"},
              {"offset": 0.883, "color": "rgba(255,34,34,0)"}, {"offset": 0.885, "color": "#ff2222"}, {"offset": 0.887, "color": "rgba(255,34,34,0)"},
              {"offset": 0.908, "color": "rgba(255,34,34,0)"}, {"offset": 0.91, "color": "#ff2222"}, {"offset": 0.912, "color": "rgba(255,34,34,0)"},
              {"offset": 0.933, "color": "rgba(255,34,34,0)"}, {"offset": 0.935, "color": "#ff2222"}, {"offset": 0.937, "color": "rgba(255,34,34,0)"},
              {"offset": 0.958, "color": "rgba(255,34,34,0)"}, {"offset": 0.96, "color": "#ff2222"}, {"offset": 0.962, "color": "rgba(255,34,34,0)"},
              {"offset": 0.983, "color": "rgba(255,34,34,0)"}, {"offset": 0.985, "color": "#ff2222"}, {"offset": 0.987, "color": "rgba(255,34,34,0)"}
            ]}
          },
          "encoding": {
            "x": {"field": "z", "type": "quantitative", "axis": null},
            "y": {"field": "touschek", "type": "quantitative", "stack": null, "axis": null}
          }
        },
        {
          "data": {"name": "loss"},
          "mark": {
            "type": "area", "interpolate": "step-after", "clip": true, "strokeWidth": 0,
            "fill": {"gradient": "linear", "x1": 0, "y1": 0, "x2": 1.138, "y2": 0.195, "stops": [
              {"offset": 0.008, "color": "rgba(255,34,34,0)"}, {"offset": 0.01, "color": "#ff2222"}, {"offset": 0.012, "color": "rgba(255,34,34,0)"},
              {"offset": 0.033, "color": "rgba(255,34,34,0)"}, {"offset": 0.035, "color": "#ff2222"}, {"offset": 0.037, "color": "rgba(255,34,34,0)"},
              {"offset": 0.058, "color": "rgba(255,34,34,0)"}, {"offset": 0.06, "color": "#ff2222"}, {"offset": 0.062, "color": "rgba(255,34,34,0)"},
              {"offset": 0.083, "color": "rgba(255,34,34,0)"}, {"offset": 0.085, "color": "#ff2222"}, {"offset": 0.087, "color": "rgba(255,34,34,0)"},
              {"offset": 0.108, "color": "rgba(255,34,34,0)"}, {"offset": 0.11, "color": "#ff2222"}, {"offset": 0.112, "color": "rgba(255,34,34,0)"},
              {"offset": 0.133, "color": "rgba(255,34,34,0)"}, {"offset": 0.135, "color": "#ff2222"}, {"offset": 0.137, "color": "rgba(255,34,34,0)"},
              {"offset": 0.158, "color": "rgba(255,34,34,0)"}, {"offset": 0.16, "color": "#ff2222"}, {"offset": 0.162, "color": "rgba(255,34,34,0)"},
              {"offset": 0.183, "color": "rgba(255,34,34,0)"}, {"offset": 0.185, "color": "#ff2222"}, {"offset": 0.187, "color": "rgba(255,34,34,0)"},
              {"offset": 0.208, "color": "rgba(255,34,34,0)"}, {"offset": 0.21, "color": "#ff2222"}, {"offset": 0.212, "color": "rgba(255,34,34,0)"},
              {"offset": 0.233, "color": "rgba(255,34,34,0)"}, {"offset": 0.235, "color": "#ff2222"}, {"offset": 0.237, "color": "rgba(255,34,34,0)"},
              {"offset": 0.258, "color": "rgba(255,34,34,0)"}, {"offset": 0.26, "color": "#ff2222"}, {"offset": 0.262, "color": "rgba(255,34,34,0)"},
              {"offset": 0.283, "color": "rgba(255,34,34,0)"}, {"offset": 0.285, "color": "#ff2222"}, {"offset": 0.287, "color": "rgba(255,34,34,0)"},
              {"offset": 0.308, "color": "rgba(255,34,34,0)"}, {"offset": 0.31, "color": "#ff2222"}, {"offset": 0.312, "color": "rgba(255,34,34,0)"},
              {"offset": 0.333, "color": "rgba(255,34,34,0)"}, {"offset": 0.335, "color": "#ff2222"}, {"offset": 0.337, "color": "rgba(255,34,34,0)"},
              {"offset": 0.358, "color": "rgba(255,34,34,0)"}, {"offset": 0.36, "color": "#ff2222"}, {"offset": 0.362, "color": "rgba(255,34,34,0)"},
              {"offset": 0.383, "color": "rgba(255,34,34,0)"}, {"offset": 0.385, "color": "#ff2222"}, {"offset": 0.387, "color": "rgba(255,34,34,0)"},
              {"offset": 0.408, "color": "rgba(255,34,34,0)"}, {"offset": 0.41, "color": "#ff2222"}, {"offset": 0.412, "color": "rgba(255,34,34,0)"},
              {"offset": 0.433, "color": "rgba(255,34,34,0)"}, {"offset": 0.435, "color": "#ff2222"}, {"offset": 0.437, "color": "rgba(255,34,34,0)"},
              {"offset": 0.458, "color": "rgba(255,34,34,0)"}, {"offset": 0.46, "color": "#ff2222"}, {"offset": 0.462, "color": "rgba(255,34,34,0)"},
              {"offset": 0.483, "color": "rgba(255,34,34,0)"}, {"offset": 0.485, "color": "#ff2222"}, {"offset": 0.487, "color": "rgba(255,34,34,0)"},
              {"offset": 0.508, "color": "rgba(255,34,34,0)"}, {"offset": 0.51, "color": "#ff2222"}, {"offset": 0.512, "color": "rgba(255,34,34,0)"},
              {"offset": 0.533, "color": "rgba(255,34,34,0)"}, {"offset": 0.535, "color": "#ff2222"}, {"offset": 0.537, "color": "rgba(255,34,34,0)"},
              {"offset": 0.558, "color": "rgba(255,34,34,0)"}, {"offset": 0.56, "color": "#ff2222"}, {"offset": 0.562, "color": "rgba(255,34,34,0)"},
              {"offset": 0.583, "color": "rgba(255,34,34,0)"}, {"offset": 0.585, "color": "#ff2222"}, {"offset": 0.587, "color": "rgba(255,34,34,0)"},
              {"offset": 0.608, "color": "rgba(255,34,34,0)"}, {"offset": 0.61, "color": "#ff2222"}, {"offset": 0.612, "color": "rgba(255,34,34,0)"},
              {"offset": 0.633, "color": "rgba(255,34,34,0)"}, {"offset": 0.635, "color": "#ff2222"}, {"offset": 0.637, "color": "rgba(255,34,34,0)"},
              {"offset": 0.658, "color": "rgba(255,34,34,0)"}, {"offset": 0.66, "color": "#ff2222"}, {"offset": 0.662, "color": "rgba(255,34,34,0)"},
              {"offset": 0.683, "color": "rgba(255,34,34,0)"}, {"offset": 0.685, "color": "#ff2222"}, {"offset": 0.687, "color": "rgba(255,34,34,0)"},
              {"offset": 0.708, "color": "rgba(255,34,34,0)"}, {"offset": 0.71, "color": "#ff2222"}, {"offset": 0.712, "color": "rgba(255,34,34,0)"},
              {"offset": 0.733, "color": "rgba(255,34,34,0)"}, {"offset": 0.735, "color": "#ff2222"}, {"offset": 0.737, "color": "rgba(255,34,34,0)"},
              {"offset": 0.758, "color": "rgba(255,34,34,0)"}, {"offset": 0.76, "color": "#ff2222"}, {"offset": 0.762, "color": "rgba(255,34,34,0)"},
              {"offset": 0.783, "color": "rgba(255,34,34,0)"}, {"offset": 0.785, "color": "#ff2222"}, {"offset": 0.787, "color": "rgba(255,34,34,0)"},
              {"offset": 0.808, "color": "rgba(255,34,34,0)"}, {"offset": 0.81, "color": "#ff2222"}, {"offset": 0.812, "color": "rgba(255,34,34,0)"},
              {"offset": 0.833, "color": "rgba(255,34,34,0)"}, {"offset": 0.835, "color": "#ff2222"}, {"offset": 0.837, "color": "rgba(255,34,34,0)"},
              {"offset": 0.858, "color": "rgba(255,34,34,0)"}, {"offset": 0.86, "color": "#ff2222"}, {"offset": 0.862, "color": "rgba(255,34,34,0)"},
              {"offset": 0.883, "color": "rgba(255,34,34,0)"}, {"offset": 0.885, "color": "#ff2222"}, {"offset": 0.887, "color": "rgba(255,34,34,0)"},
              {"offset": 0.908, "color": "rgba(255,34,34,0)"}, {"offset": 0.91, "color": "#ff2222"}, {"offset": 0.912, "color": "rgba(255,34,34,0)"},
              {"offset": 0.933, "color": "rgba(255,34,34,0)"}, {"offset": 0.935, "color": "#ff2222"}, {"offset": 0.937, "color": "rgba(255,34,34,0)"},
              {"offset": 0.958, "color": "rgba(255,34,34,0)"}, {"offset": 0.96, "color": "#ff2222"}, {"offset": 0.962, "color": "rgba(255,34,34,0)"},
              {"offset": 0.983, "color": "rgba(255,34,34,0)"}, {"offset": 0.985, "color": "#ff2222"}, {"offset": 0.987, "color": "rgba(255,34,34,0)"}
            ]}
          },
          "encoding": {
            "x": {"field": "z", "type": "quantitative", "axis": null},
            "y": {"field": "touschek", "type": "quantitative", "stack": null, "axis": null}
          }
        },
        {
          "data": {"name": "loss"},
          "mark": {
            "type": "area", "interpolate": "step-after", "clip": true, "stroke": "#2020b0", "strokeWidth": 1.5,
            "fill": {"gradient": "linear", "x1": 0, "y1": 0, "x2": 1.203, "y2": 0.424, "stops": [
              {"offset": 0.007, "color": "rgba(36,36,238,0)"}, {"offset": 0.01, "color": "#2424ee"}, {"offset": 0.013, "color": "rgba(36,36,238,0)"},
              {"offset": 0.032, "color": "rgba(36,36,238,0)"}, {"offset": 0.035, "color": "#2424ee"}, {"offset": 0.038, "color": "rgba(36,36,238,0)"},
              {"offset": 0.057, "color": "rgba(36,36,238,0)"}, {"offset": 0.06, "color": "#2424ee"}, {"offset": 0.063, "color": "rgba(36,36,238,0)"},
              {"offset": 0.082, "color": "rgba(36,36,238,0)"}, {"offset": 0.085, "color": "#2424ee"}, {"offset": 0.088, "color": "rgba(36,36,238,0)"},
              {"offset": 0.107, "color": "rgba(36,36,238,0)"}, {"offset": 0.11, "color": "#2424ee"}, {"offset": 0.113, "color": "rgba(36,36,238,0)"},
              {"offset": 0.132, "color": "rgba(36,36,238,0)"}, {"offset": 0.135, "color": "#2424ee"}, {"offset": 0.138, "color": "rgba(36,36,238,0)"},
              {"offset": 0.157, "color": "rgba(36,36,238,0)"}, {"offset": 0.16, "color": "#2424ee"}, {"offset": 0.163, "color": "rgba(36,36,238,0)"},
              {"offset": 0.182, "color": "rgba(36,36,238,0)"}, {"offset": 0.185, "color": "#2424ee"}, {"offset": 0.188, "color": "rgba(36,36,238,0)"},
              {"offset": 0.207, "color": "rgba(36,36,238,0)"}, {"offset": 0.21, "color": "#2424ee"}, {"offset": 0.213, "color": "rgba(36,36,238,0)"},
              {"offset": 0.232, "color": "rgba(36,36,238,0)"}, {"offset": 0.235, "color": "#2424ee"}, {"offset": 0.238, "color": "rgba(36,36,238,0)"},
              {"offset": 0.257, "color": "rgba(36,36,238,0)"}, {"offset": 0.26, "color": "#2424ee"}, {"offset": 0.263, "color": "rgba(36,36,238,0)"},
              {"offset": 0.282, "color": "rgba(36,36,238,0)"}, {"offset": 0.285, "color": "#2424ee"}, {"offset": 0.288, "color": "rgba(36,36,238,0)"},
              {"offset": 0.307, "color": "rgba(36,36,238,0)"}, {"offset": 0.31, "color": "#2424ee"}, {"offset": 0.313, "color": "rgba(36,36,238,0)"},
              {"offset": 0.332, "color": "rgba(36,36,238,0)"}, {"offset": 0.335, "color": "#2424ee"}, {"offset": 0.338, "color": "rgba(36,36,238,0)"},
              {"offset": 0.357, "color": "rgba(36,36,238,0)"}, {"offset": 0.36, "color": "#2424ee"}, {"offset": 0.363, "color": "rgba(36,36,238,0)"},
              {"offset": 0.382, "color": "rgba(36,36,238,0)"}, {"offset": 0.385, "color": "#2424ee"}, {"offset": 0.388, "color": "rgba(36,36,238,0)"},
              {"offset": 0.407, "color": "rgba(36,36,238,0)"}, {"offset": 0.41, "color": "#2424ee"}, {"offset": 0.413, "color": "rgba(36,36,238,0)"},
              {"offset": 0.432, "color": "rgba(36,36,238,0)"}, {"offset": 0.435, "color": "#2424ee"}, {"offset": 0.438, "color": "rgba(36,36,238,0)"},
              {"offset": 0.457, "color": "rgba(36,36,238,0)"}, {"offset": 0.46, "color": "#2424ee"}, {"offset": 0.463, "color": "rgba(36,36,238,0)"},
              {"offset": 0.482, "color": "rgba(36,36,238,0)"}, {"offset": 0.485, "color": "#2424ee"}, {"offset": 0.488, "color": "rgba(36,36,238,0)"},
              {"offset": 0.507, "color": "rgba(36,36,238,0)"}, {"offset": 0.51, "color": "#2424ee"}, {"offset": 0.513, "color": "rgba(36,36,238,0)"},
              {"offset": 0.532, "color": "rgba(36,36,238,0)"}, {"offset": 0.535, "color": "#2424ee"}, {"offset": 0.538, "color": "rgba(36,36,238,0)"},
              {"offset": 0.557, "color": "rgba(36,36,238,0)"}, {"offset": 0.56, "color": "#2424ee"}, {"offset": 0.563, "color": "rgba(36,36,238,0)"},
              {"offset": 0.582, "color": "rgba(36,36,238,0)"}, {"offset": 0.585, "color": "#2424ee"}, {"offset": 0.588, "color": "rgba(36,36,238,0)"},
              {"offset": 0.607, "color": "rgba(36,36,238,0)"}, {"offset": 0.61, "color": "#2424ee"}, {"offset": 0.613, "color": "rgba(36,36,238,0)"},
              {"offset": 0.632, "color": "rgba(36,36,238,0)"}, {"offset": 0.635, "color": "#2424ee"}, {"offset": 0.638, "color": "rgba(36,36,238,0)"},
              {"offset": 0.657, "color": "rgba(36,36,238,0)"}, {"offset": 0.66, "color": "#2424ee"}, {"offset": 0.663, "color": "rgba(36,36,238,0)"},
              {"offset": 0.682, "color": "rgba(36,36,238,0)"}, {"offset": 0.685, "color": "#2424ee"}, {"offset": 0.688, "color": "rgba(36,36,238,0)"},
              {"offset": 0.707, "color": "rgba(36,36,238,0)"}, {"offset": 0.71, "color": "#2424ee"}, {"offset": 0.713, "color": "rgba(36,36,238,0)"},
              {"offset": 0.732, "color": "rgba(36,36,238,0)"}, {"offset": 0.735, "color": "#2424ee"}, {"offset": 0.738, "color": "rgba(36,36,238,0)"},
              {"offset": 0.757, "color": "rgba(36,36,238,0)"}, {"offset": 0.76, "color": "#2424ee"}, {"offset": 0.763, "color": "rgba(36,36,238,0)"},
              {"offset": 0.782, "color": "rgba(36,36,238,0)"}, {"offset": 0.785, "color": "#2424ee"}, {"offset": 0.788, "color": "rgba(36,36,238,0)"},
              {"offset": 0.807, "color": "rgba(36,36,238,0)"}, {"offset": 0.81, "color": "#2424ee"}, {"offset": 0.813, "color": "rgba(36,36,238,0)"},
              {"offset": 0.832, "color": "rgba(36,36,238,0)"}, {"offset": 0.835, "color": "#2424ee"}, {"offset": 0.838, "color": "rgba(36,36,238,0)"},
              {"offset": 0.857, "color": "rgba(36,36,238,0)"}, {"offset": 0.86, "color": "#2424ee"}, {"offset": 0.863, "color": "rgba(36,36,238,0)"},
              {"offset": 0.882, "color": "rgba(36,36,238,0)"}, {"offset": 0.885, "color": "#2424ee"}, {"offset": 0.888, "color": "rgba(36,36,238,0)"},
              {"offset": 0.907, "color": "rgba(36,36,238,0)"}, {"offset": 0.91, "color": "#2424ee"}, {"offset": 0.913, "color": "rgba(36,36,238,0)"},
              {"offset": 0.932, "color": "rgba(36,36,238,0)"}, {"offset": 0.935, "color": "#2424ee"}, {"offset": 0.938, "color": "rgba(36,36,238,0)"},
              {"offset": 0.957, "color": "rgba(36,36,238,0)"}, {"offset": 0.96, "color": "#2424ee"}, {"offset": 0.963, "color": "rgba(36,36,238,0)"},
              {"offset": 0.982, "color": "rgba(36,36,238,0)"}, {"offset": 0.985, "color": "#2424ee"}, {"offset": 0.988, "color": "rgba(36,36,238,0)"}
            ]}
          },
          "encoding": {
            "x": {"field": "z", "type": "quantitative", "axis": null},
            "y": {"field": "brems", "type": "quantitative", "stack": null, "axis": null}
          }
        },
        {
          "data": {"name": "loss"},
          "transform": [{"filter": "false"}],
          "mark": {"type": "area"},
          "encoding": {
            "x": {"field": "z", "type": "quantitative", "axis": null},
            "y": {"field": "coulomb", "type": "quantitative", "stack": null, "axis": null},
            "fill": {
              "datum": "Coulomb", "type": "nominal",
              "scale": {"domain": ["Touschek", "Coulomb", "Bremsstrahlung"], "range": ["#ffdcdc", "#d8f6d8", "#dadaff"]},
              "legend": {
                "orient": "none", "legendX": 104, "legendY": 17, "title": null, "direction": "horizontal",
                "symbolType": "M-1,-0.64H1V0.64H-1Z", "symbolSize": 1521, "symbolStrokeColor": "#2020b0", "symbolStrokeWidth": 1.5,
                "labelOffset": 8, "columnPadding": 17
              }
            }
          }
        },
        {
          "data": {"name": "loss"},
          "mark": {"type": "point", "opacity": 0},
          "encoding": {
            "x": {"field": "z", "type": "quantitative", "axis": {"orient": "bottom", "values": [-10, -8, -6, -4, -2, 0, 2, 4, 6, 8, 10], "labels": false, "tickSize": -10, "tickColor": "#202090", "title": null}},
            "y": {"field": "coulomb", "type": "quantitative", "axis": {"orient": "left", "values": [1, 10, 100, 1000, 10000, 100000, 1000000, 10000000, 100000000, 1000000000], "labels": false, "tickSize": -23, "title": null}}
          }
        },
        {
          "data": {"name": "loss"},
          "mark": {"type": "point", "opacity": 0},
          "encoding": {
            "x": {"field": "z", "type": "quantitative", "axis": {"orient": "bottom", "tickCount": 100, "labels": false, "tickSize": -6, "tickColor": "#202090", "title": null}},
            "y": {"field": "coulomb", "type": "quantitative", "axis": {"orient": "left", "values": [5, 50, 500, 5000, 50000, 500000, 5000000, 50000000, 500000000], "labels": false, "tickSize": -12, "title": null}}
          }
        },
        {
          "data": {"name": "cuts"},
          "transform": [{"filter": "datum.cut === 'a'"}],
          "mark": {"type": "rule", "color": "#b8582a", "strokeWidth": 7, "strokeDash": [27, 20], "strokeDashOffset": 10},
          "encoding": {
            "x": {"field": "z", "type": "quantitative", "axis": null},
            "y": {"datum": 4800000000, "type": "quantitative", "axis": null},
            "y2": {"datum": 0.013}
          }
        },
        {
          "data": {"name": "cuts"},
          "transform": [{"filter": "datum.cut === 'b'"}],
          "mark": {"type": "rule", "color": "#b8582a", "strokeWidth": 7, "strokeDash": [27, 20], "strokeDashOffset": 16},
          "encoding": {
            "x": {"field": "z", "type": "quantitative", "axis": null},
            "y": {"datum": 4800000000, "type": "quantitative", "axis": null},
            "y2": {"datum": 0.013}
          }
        }
      ]
    }
  ]
}
